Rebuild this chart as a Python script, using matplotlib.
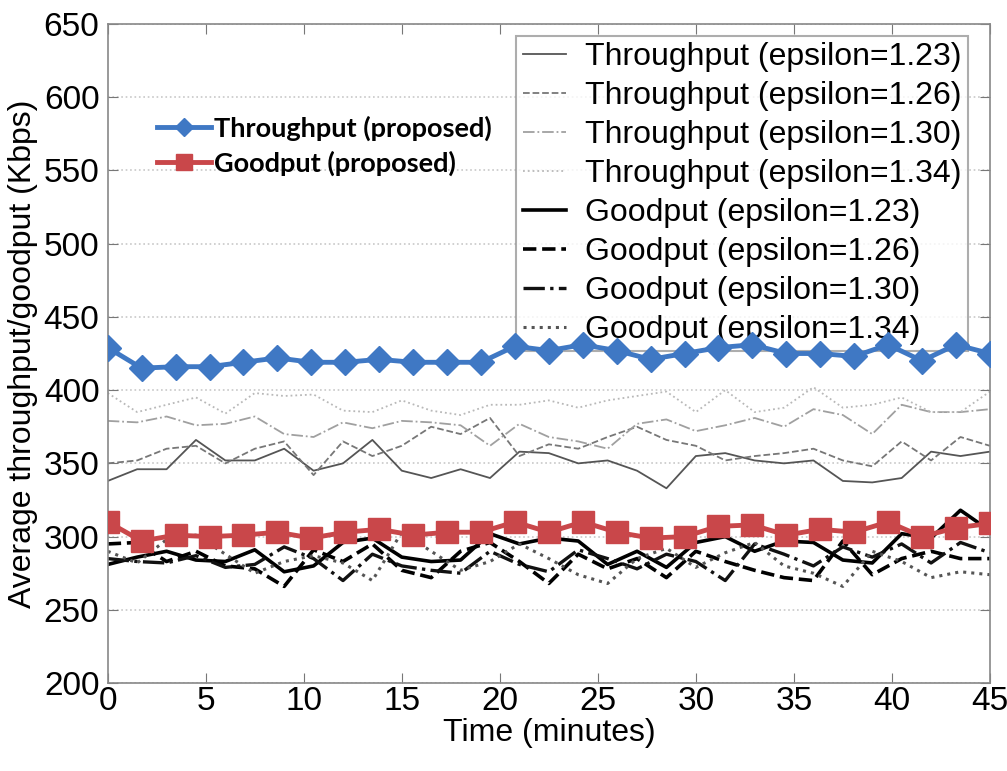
import numpy as np
import matplotlib
matplotlib.use('Agg')
import matplotlib.pyplot as plt

# time axis of the simulation traces (minutes)
t_eps = np.linspace(0, 45, 31)
t_prop = np.linspace(0, 45, 27)

# throughput for the fixed epsilon settings (Kbps)
thr_123 = [338, 346, 346, 366, 352, 352, 360, 345, 350, 366, 345, 340, 346, 340, 358, 357,
           350, 352, 345, 333, 355, 357, 352, 350, 352, 338, 337, 340, 358, 355, 358]
thr_126 = [350, 352, 360, 362, 350, 360, 365, 342, 365, 355, 362, 375, 370, 381, 355, 363,
           360, 368, 375, 366, 362, 352, 355, 357, 360, 352, 348, 365, 352, 368, 362]
thr_130 = [379, 378, 382, 376, 377, 382, 370, 368, 378, 374, 379, 378, 376, 362, 377, 368,
           365, 360, 377, 380, 372, 376, 381, 375, 387, 383, 370, 390, 385, 385, 387]
thr_134 = [398, 385, 390, 395, 384, 398, 396, 397, 386, 385, 393, 386, 383, 390, 390, 393,
           388, 393, 396, 399, 385, 400, 385, 388, 402, 388, 390, 395, 385, 385, 399]

# goodput for the fixed epsilon settings (Kbps)
gp_123 = [281, 286, 290, 284, 283, 291, 276, 280, 296, 299, 286, 283, 284, 302, 295, 299,
          297, 281, 290, 279, 296, 300, 290, 297, 296, 284, 282, 302, 299, 318, 304]
gp_126 = [295, 296, 283, 290, 280, 278, 266, 291, 283, 295, 277, 272, 290, 296, 283, 268,
          288, 278, 285, 272, 290, 283, 277, 272, 270, 297, 274, 285, 290, 285, 285]
gp_130 = [285, 283, 282, 287, 279, 281, 293, 285, 270, 288, 280, 277, 275, 290, 281, 276,
          291, 285, 278, 288, 283, 270, 295, 288, 280, 293, 286, 295, 282, 296, 289]
gp_134 = [290, 282, 298, 301, 288, 275, 283, 287, 282, 270, 303, 290, 277, 283, 295, 285,
          274, 268, 285, 292, 279, 289, 296, 280, 275, 266, 290, 283, 272, 276, 274]

# proposed scheme
thr_prop = [429, 415, 416, 416, 419, 422, 419, 419, 421, 419, 419, 419, 430, 427,
            431, 427, 421, 425, 429, 431, 425, 425, 423, 431, 420, 431, 425]
gp_prop = [310, 297, 301, 300, 301, 303, 299, 303, 305, 301, 303, 303, 310, 303,
           310, 303, 299, 300, 307, 308, 301, 305, 303, 310, 300, 306, 309]

eps_labels = ['1.23', '1.26', '1.30', '1.34']

plt.rcParams['font.family'] = ['Liberation Sans', 'DejaVu Sans']

fig = plt.figure(figsize=(10.07, 7.71), dpi=100)
ax = fig.add_axes([0.107, 0.114, 0.876, 0.855])

thr_styles = [('-', '#555555'), ('--', '#777777'), ('-.', '#a0a0a0'), (':', '#b8b8b8')]
gp_styles = [('-', '#000000', 2.6), ('--', '#000000', 2.6), ('-.', '#111111', 2.4), (':', '#555555', 2.2)]

handles = []
for y, (ls, c), e in zip([thr_123, thr_126, thr_130, thr_134], thr_styles, eps_labels):
    h, = ax.plot(t_eps, y, ls=ls, color=c, lw=1.3, label='Throughput (epsilon=%s)' % e)
    handles.append(h)
for y, (ls, c, lw), e in zip([gp_123, gp_126, gp_130, gp_134], gp_styles, eps_labels):
    h, = ax.plot(t_eps, y, ls=ls, color=c, lw=lw, label='Goodput (epsilon=%s)' % e)
    handles.append(h)

p1, = ax.plot(t_prop, thr_prop, color='#3f78c4', lw=3.5, marker='D', ms=13,
              label='Throughput (proposed)', zorder=6)
p2, = ax.plot(t_prop, gp_prop, color='#c9474a', lw=3.5, marker='s', ms=16,
              label='Goodput (proposed)', zorder=6)

ax.set_xlim(0, 45)
ax.set_ylim(200, 650)
ax.set_xticks(np.arange(0, 46, 5))
ax.set_yticks(np.arange(200, 651, 50))
ax.tick_params(direction='in', top=True, right=True, labelsize=24, length=7,
               color='#777777')
ax.tick_params(axis='x', pad=2)
ax.tick_params(axis='y', pad=6)
for s in ax.spines.values():
    s.set_color('#888888')
    s.set_linewidth(1.2)
ax.yaxis.grid(True, ls=':', color='#c8c8c8', lw=1.2)

ax.set_xlabel('Time (minutes)', fontsize=23, labelpad=1)
ax.set_ylabel('Average throughput/goodput (Kbps)', fontsize=23, labelpad=4)

# epsilon legend sits under the proposed-scheme curves
leg1 = ax.legend(handles=handles, loc='upper right', bbox_to_anchor=(0.975, 0.982),
                 fontsize=23, frameon=True, fancybox=False, handlelength=1.35,
                 handletextpad=0.6, labelspacing=0.28, borderpad=0.2, borderaxespad=0)
leg1.get_frame().set_edgecolor('#999999')
leg1.get_frame().set_linewidth(1.5)
leg1.set_zorder(4)
ax.add_artist(leg1)

leg2 = ax.legend(handles=[p1, p2], loc='upper left', bbox_to_anchor=(0.028, 0.898),
                 frameon=False, prop={'family': 'Lato', 'weight': 'bold', 'size': 19.5},
                 handlelength=2.0, handletextpad=0.1, labelspacing=0.35, markerscale=0.7)
leg2.set_zorder(7)

fig.savefig('out.png', dpi=100)
